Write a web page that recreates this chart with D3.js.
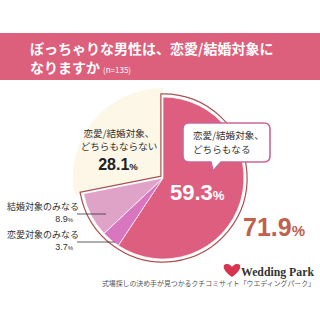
<!DOCTYPE html>
<html>
<head>
<meta charset="utf-8">
<script src="https://cdn.jsdelivr.net/npm/d3@7"></script>
<style>
  body { margin: 0; background: #fff; }
  text { font-family: "Noto Sans CJK JP", "Noto Sans", sans-serif; }
</style>
</head>
<body>
<div id="chart"></div>
<script>
var categories = ["恋愛/結婚対象、どちらもなる", "恋愛対象のみなる", "結婚対象のみなる", "恋愛/結婚対象、どちらもならない"];
var values = [59.3, 3.7, 8.9, 28.1];
var groupTotal = 71.9;
var colors = ["#dd5e7e", "#d877bf", "#dfa3c8", "#fdf7e8"];

function init(){
    var w = 320, h = 320;
    var cx = 163, cy = 178;
    var r = 81;

    var svg = d3.select("#chart").append("svg")
        .attr("width", w).attr("height", h);

    // header band
    svg.append("rect").attr("x", 0).attr("y", 33).attr("width", w).attr("height", 47)
        .attr("fill", "#dc5f7c");
    svg.append("text").attr("x", 30).attr("y", 54)
        .attr("fill", "#fff").attr("font-size", "14px").attr("font-weight", "bold")
        .text("ぼっちゃりな男性は、恋愛/結婚対象に");
    var t2 = svg.append("text").attr("x", 30).attr("y", 73)
        .attr("fill", "#fff").attr("font-size", "14px").attr("font-weight", "bold");
    t2.append("tspan").text("なりますか");
    t2.append("tspan").attr("font-size", "8px").attr("font-weight", "normal").attr("dx", 3).text("(n=135)");

    var pie = d3.pie().sort(null).value(function(d){ return d; });
    var arcs = pie(values);

    var g = svg.append("g").attr("transform", "translate(" + cx + "," + cy + ")");

    // cream slice is drawn larger
    g.append("path")
        .attr("d", d3.arc().innerRadius(0).outerRadius(90)(arcs[3]))
        .attr("fill", colors[3]);

    // outline around the 71.9% group
    var groupArc = d3.arc().innerRadius(0).outerRadius(r + 1)
        ({startAngle: 0, endAngle: arcs[2].endAngle});
    g.append("path").attr("d", groupArc)
        .attr("fill", "#fff").attr("stroke", "#a9524f").attr("stroke-width", 5.4)
        .attr("stroke-linejoin", "miter");
    g.append("path").attr("d", groupArc)
        .attr("fill", "#fff").attr("stroke", "#fff").attr("stroke-width", 3);

    var arc = d3.arc().innerRadius(0).outerRadius(r);
    g.selectAll("path.slice")
        .data(arcs.slice(0, 3))
        .enter()
        .append("path")
        .attr("class", "slice")
        .attr("d", arc)
        .attr("fill", function(d, i){ return colors[i]; })
        .attr("stroke", "#fff")
        .attr("stroke-width", 0.7);

    // callout box
    var bx = 183, by = 123, bw = 87, bh = 39;
    svg.append("path")
        .attr("d", "M" + (bx + 6) + "," + by + " H" + (bx + bw - 6) + " Q" + (bx + bw) + "," + by + " " + (bx + bw) + "," + (by + 6) +
            " V" + (by + bh - 6) + " Q" + (bx + bw) + "," + (by + bh) + " " + (bx + bw - 6) + "," + (by + bh) +
            " H" + (bx + 38) + " L" + (bx + 30) + "," + (by + bh + 9) + " L" + (bx + 28) + "," + (by + bh) +
            " H" + (bx + 6) + " Q" + bx + "," + (by + bh) + " " + bx + "," + (by + bh - 6) +
            " V" + (by + 6) + " Q" + bx + "," + by + " " + (bx + 6) + "," + by + " Z")
        .attr("fill", "#fff").attr("stroke", "#c9679a").attr("stroke-width", 1.6);
    svg.append("text").attr("x", bx + 10).attr("y", by + 16)
        .attr("font-size", "9.6px").attr("fill", "#333").text("恋愛/結婚対象、");
    svg.append("text").attr("x", bx + 10).attr("y", by + 30)
        .attr("font-size", "9.6px").attr("fill", "#333").text("どちらもなる");

    // big percentages
    function pct(x, y, v, size, color, anchor){
        var t = svg.append("text").attr("x", x).attr("y", y)
            .attr("fill", color).attr("font-weight", "bold")
            .attr("font-size", size + "px").attr("text-anchor", anchor || "start")
            .style("font-family", "'Liberation Sans', Arial, sans-serif");
        t.append("tspan").text(v.toFixed(1));
        t.append("tspan").attr("font-size", (size * 0.6) + "px").text("%");
        return t;
    }
    pct(170, 200, values[0], 22, "#fff");
    pct(243, 236, groupTotal, 25, "#c0604e");

    // cream label
    svg.append("text").attr("x", 119).attr("y", 137).attr("text-anchor", "middle")
        .attr("font-size", "9.6px").attr("fill", "#333").text("恋愛/結婚対象、");
    svg.append("text").attr("x", 119).attr("y", 150).attr("text-anchor", "middle")
        .attr("font-size", "9.6px").attr("fill", "#333").text("どちらもならない");
    pct(118, 170, values[3], 16, "#222", "middle");

    // left labels with leader lines
    var left = [
        {name: categories[2], v: values[2], y: 210, lx: 106},
        {name: categories[1], v: values[1], y: 238, lx: 115}
    ];
    left.forEach(function(d){
        svg.append("text").attr("x", 7).attr("y", d.y)
            .attr("font-size", "9px").attr("fill", "#333").text(d.name);
        var t = svg.append("text").attr("x", 73).attr("y", d.y + 12)
            .attr("text-anchor", "end").attr("font-size", "9px").attr("fill", "#333")
            .style("font-family", "'Liberation Sans', Arial, sans-serif");
        t.append("tspan").text(d.v.toFixed(1));
        t.append("tspan").attr("font-size", "6px").text("%");
        svg.append("line").attr("x1", 77).attr("x2", d.lx)
            .attr("y1", d.y + 4).attr("y2", d.y + 4)
            .attr("stroke", "#333").attr("stroke-width", 0.8);
    });

    // logo
    svg.append("path")
        .attr("d", "M232,277 C222,270 222,264 227,264 C230,264 231,266 232,267 C233,266 234,264 237,264 C242,264 242,270 232,277 Z")
        .attr("fill", "#d9344f");
    svg.append("text").attr("x", 241).attr("y", 276)
        .attr("font-size", "12px").attr("font-weight", "bold").attr("fill", "#333")
        .attr("textLength", 73).attr("lengthAdjust", "spacingAndGlyphs")
        .style("font-family", "'Liberation Serif', serif").text("Wedding Park");
    svg.append("text").attr("x", 315).attr("y", 286).attr("text-anchor", "end")
        .attr("font-size", "6.9px").attr("fill", "#555")
        .text("式場探しの決め手が見つかるクチコミサイト「ウエディングパーク」");
}
window.onload = init;
</script>
</body>
</html>
